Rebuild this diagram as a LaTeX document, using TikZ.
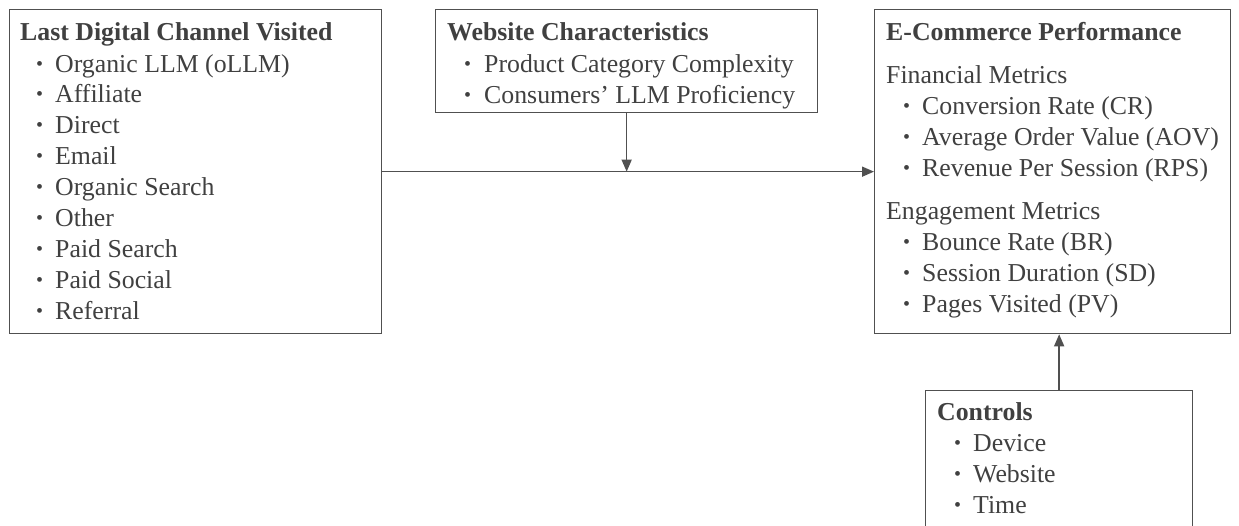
\documentclass[tikz,border=0pt]{standalone}
\usepackage{fontspec}
\setmainfont{Liberation Serif}
\usetikzlibrary{arrows.meta}
\definecolor{linec}{RGB}{80,80,80}
\definecolor{textc}{RGB}{64,64,64}
\tikzset{
  box/.style={draw=linec, line width=1.3pt, rectangle, inner sep=0pt, anchor=north west},
  txt/.style={anchor=base west, inner sep=0pt, text=textc, font=\fontsize{25.8}{30}\selectfont},
  bul/.style={anchor=base west, inner sep=0pt, text=textc, font=\fontsize{20}{24}\selectfont, yshift=2pt},
  ttl/.style={txt, font=\fontsize{25.8}{30}\selectfont\bfseries},
  arr/.style={draw=linec, line width=1.5pt, -{Triangle[length=12pt,width=10pt]}}
}
\begin{document}
\begin{tikzpicture}[x=1pt,y=-1pt]
\useasboundingbox (0,0) rectangle (1239,525);
% boxes
\node[box, minimum width=372pt, minimum height=324pt] (b1) at (9,9) {};
\node[box, minimum width=382pt, minimum height=103pt] (b2) at (435,9) {};
\node[box, minimum width=356pt, minimum height=324pt] (b3) at (874,9) {};
\node[box, minimum width=267pt, minimum height=160pt] (b4) at (925,390) {};
% box 1
\node[ttl] (t1) at (20,40) {Last Digital Channel Visited};
\foreach \t [count=\i] in {Organic LLM (oLLM),Affiliate,Direct,Email,Organic Search,Other,Paid Search,Paid Social,Referral}{
  \node[bul] (a\i b) at (36,{72+30.9*(\i-1)}) {•};
  \node[txt] (a\i) at (55,{72+30.9*(\i-1)}) {\t};
}
% box 2
\node[ttl] (t2) at (447,40) {Website Characteristics};
\node[bul] (w1b) at (464,72) {•};
\node[txt] (w1) at (484,72) {Product Category Complexity};
\node[bul] (w2b) at (464,103) {•};
\node[txt] (w2) at (484,103) {Consumers’ LLM Proficiency};
% box 3
\node[ttl] (t3) at (886,40) {E-Commerce Performance};
\node[txt] (f0) at (886,83) {Financial Metrics};
\foreach \t [count=\i] in {Conversion Rate (CR),Average Order Value (AOV),Revenue Per Session (RPS)}{
  \node[bul] (f\i b) at (903,{83+31*\i}) {•};
  \node[txt] (f\i) at (922,{83+31*\i}) {\t};
}
\node[txt] (e0) at (886,219) {Engagement Metrics};
\foreach \t [count=\i] in {Bounce Rate (BR),Session Duration (SD),Pages Visited (PV)}{
  \node[bul] (e\i b) at (903,{219+31*\i}) {•};
  \node[txt] (e\i) at (922,{219+31*\i}) {\t};
}
% box 4
\node[ttl] (t4) at (937,420) {Controls};
\foreach \t [count=\i] in {Device,Website,Time}{
  \node[bul] (c\i b) at (954,{420+31*\i}) {•};
  \node[txt] (c\i) at (973,{420+31*\i}) {\t};
}
% arrows
\draw[arr] (b1.east) -- (b3.west);
\coordinate (m) at (b2.south |- b1.east);
\draw[arr] (b2.south) -- (m);
\coordinate (n) at (b4.north |- b3.south);
\draw[arr] (b4.north) -- (n);
\end{tikzpicture}
\end{document}
